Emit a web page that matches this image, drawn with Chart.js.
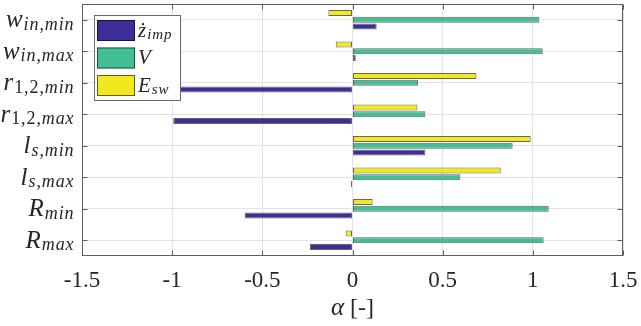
<!DOCTYPE html>
<html>
<head>
<meta charset="utf-8">
<script src="https://cdn.jsdelivr.net/npm/chart.js@4"></script>
<style>
  html, body { margin: 0; padding: 0; background: #fff; }
  canvas { display: block; }
  .preload { position: absolute; left: -2000px; top: 0; font-family: "Liberation Serif", serif; font-size: 20px; }
</style>
</head>
<body>
<div class="preload" aria-hidden="true">0123456789.-[] <i>wrlRżVEαinmaxspw</i></div>
<canvas id="c" width="641" height="326"></canvas>
<script>
// Sensitivity coefficients per design parameter
const categoryBase = ['w', 'w', 'r', 'r', 'l', 'l', 'R', 'R'];
const categorySub  = ['in,min', 'in,max', '1,2,min', '1,2,max', 's,min', 's,max', 'min', 'max'];

const zImp = [0.134, 0.018, -0.957, -0.994, 0.404, -0.008, -0.596, -0.236];
const V    = [1.036, 1.055, 0.363, 0.404, 0.888, 0.598, 1.088, 1.060];
const Esw  = [-0.134, -0.093, 0.687, 0.360, 0.988, 0.822, 0.112, -0.038];

const xTicks = [-1.5, -1, -0.5, 0, 0.5, 1, 1.5];
const xTickLabels = ['-1.5', '-1', '-0.5', '0', '0.5', '1', '1.5'];

const seriesBase = ['ż', 'V', 'E'];
const seriesSub  = ['imp', '', 'sw'];
const seriesColors = ['#3e2e9a', '#44bf94', '#f2e820'];

const SERIF = '"Liberation Serif", serif';
const AXIS_COLOR = '#5f5f5f';
const EDGE = 'rgba(0,0,0,0.6)';

// Italic math-style text: base letter followed by a smaller subscript.
function isUpright(ch) { return /[0-9,]/.test(ch); }
function fontFor(ch, size) { return (isUpright(ch) ? '' : 'italic ') + size + 'px ' + SERIF; }
function drawMath(ctx, base, sub, x, baseline, baseSize, subSize, drop, align) {
  const spacing = 0.9;
  ctx.font = 'italic ' + baseSize + 'px ' + SERIF;
  const bw = ctx.measureText(base).width;
  let sw = 0;
  for (const ch of sub) { ctx.font = fontFor(ch, subSize); sw += ctx.measureText(ch).width + spacing; }
  let cx = align === 'right' ? x - bw - sw - 1 : x;
  ctx.textBaseline = 'alphabetic';
  ctx.textAlign = 'left';
  ctx.font = 'italic ' + baseSize + 'px ' + SERIF;
  ctx.fillText(base, cx, baseline);
  cx += bw + 1;
  for (const ch of sub) {
    ctx.font = fontFor(ch, subSize);
    ctx.fillText(ch, cx, baseline + drop);
    cx += ctx.measureText(ch).width + spacing;
  }
}

const decorations = {
  id: 'decorations',
  afterDraw(chart) {
    const ctx = chart.ctx;
    const a = chart.chartArea;
    const xs = chart.scales.x, ys = chart.scales.y;
    ctx.save();

    // axes box
    ctx.strokeStyle = AXIS_COLOR;
    ctx.lineWidth = 1;
    const L = Math.round(xs.getPixelForValue(xTicks[0])) + 0.5;
    const Rr = Math.round(xs.getPixelForValue(xTicks[xTicks.length - 1])) - 0.5;
    const T = Math.round(a.top) + 0.5, B = Math.round(a.bottom) - 0.5;
    ctx.strokeRect(L, T, Rr - L, B - T);

    // inward tick marks
    const tl = 5;
    ctx.beginPath();
    xTicks.forEach(v => {
      const px = Math.round(xs.getPixelForValue(v)) + 0.5;
      ctx.moveTo(px, B); ctx.lineTo(px, B - tl);
      ctx.moveTo(px, T); ctx.lineTo(px, T + tl);
    });
    categoryBase.forEach((_, i) => {
      const py = Math.round(ys.getPixelForValue(i)) + 0.5;
      ctx.moveTo(L, py); ctx.lineTo(L + tl, py);
      ctx.moveTo(Rr, py); ctx.lineTo(Rr - tl, py);
    });
    ctx.stroke();

    // category labels
    ctx.fillStyle = '#262626';
    categoryBase.forEach((b, i) => {
      const py = ys.getPixelForValue(i);
      drawMath(ctx, b, categorySub[i], L - 8, py + 7.5, 25, 18, 2.5, 'right');
    });

    // axis title: α [-]
    ctx.textBaseline = 'alphabetic';
    ctx.textAlign = 'left';
    ctx.font = 'italic 25px ' + SERIF;
    const aw = ctx.measureText('α').width;
    ctx.font = '24px ' + SERIF;
    const rest = ' [-]';
    const rw = ctx.measureText(rest).width;
    const cx = (L + Rr) / 2 - (aw + rw) / 2;
    ctx.font = 'italic 25px ' + SERIF;
    ctx.fillText('α', cx, 315);
    ctx.font = '24px ' + SERIF;
    ctx.fillText(rest, cx + aw, 315);

    // legend
    const lx = 94, ly = 15, lw = 86, lh = 85;
    ctx.fillStyle = '#fff';
    ctx.fillRect(lx, ly, lw, lh);
    ctx.strokeStyle = '#6a6a6a';
    ctx.strokeRect(lx + 0.5, ly + 0.5, lw, lh);
    seriesBase.forEach((b, i) => {
      const sy = 20 + i * 27.5;
      ctx.fillStyle = seriesColors[i];
      ctx.fillRect(97, sy, 38, 21);
      ctx.strokeStyle = EDGE;
      ctx.strokeRect(97.5, sy + 0.5, 37, 20);
      ctx.fillStyle = '#262626';
      drawMath(ctx, b, seriesSub[i], 138, sy + 16.5, 21, 15, 2.5, 'left');
    });

    ctx.restore();
  }
};

// datasets listed top-to-bottom within each group
const datasets = [
  { data: Esw,  backgroundColor: seriesColors[2] },
  { data: V,    backgroundColor: seriesColors[1] },
  { data: zImp, backgroundColor: seriesColors[0] }
].map(d => Object.assign(d, {
  borderColor: EDGE, borderWidth: 1, borderSkipped: false,
  categoryPercentage: 0.64, barPercentage: 0.92
}));

const chart = new Chart(document.getElementById('c'), {
  type: 'bar',
  data: { labels: categorySub.map((s, i) => categoryBase[i] + '_' + s), datasets },
  options: {
    indexAxis: 'y',
    responsive: false,
    animation: false,
    devicePixelRatio: 1,
    layout: { padding: { top: 4, right: 18, left: 0, bottom: 0 } },
    plugins: { legend: { display: false }, tooltip: { enabled: false } },
    scales: {
      x: {
        type: 'linear', min: -1.5, max: 1.5,
        afterBuildTicks: s => { s.ticks = xTicks.map(v => ({ value: v })); },
        afterFit: s => { s.height = 70; s.paddingLeft = 0; s.paddingRight = 0; },
        grid: { color: '#e2e2e2', drawTicks: false },
        border: { display: false },
        ticks: {
          autoSkip: false, maxRotation: 0, padding: 11,
          color: '#262626',
          font: { family: SERIF, size: 23 },
          callback: v => xTickLabels[xTicks.indexOf(v)]
        }
      },
      y: {
        type: 'category',
        afterFit: s => { s.width = 82; },
        grid: { color: '#e2e2e2', offset: false, drawTicks: false },
        border: { display: false },
        ticks: { display: false }
      }
    }
  },
  plugins: [decorations]
});
const redraw = () => chart.draw();
if (document.fonts && document.fonts.ready) document.fonts.ready.then(redraw);
window.addEventListener('load', redraw);
</script>
</body>
</html>
